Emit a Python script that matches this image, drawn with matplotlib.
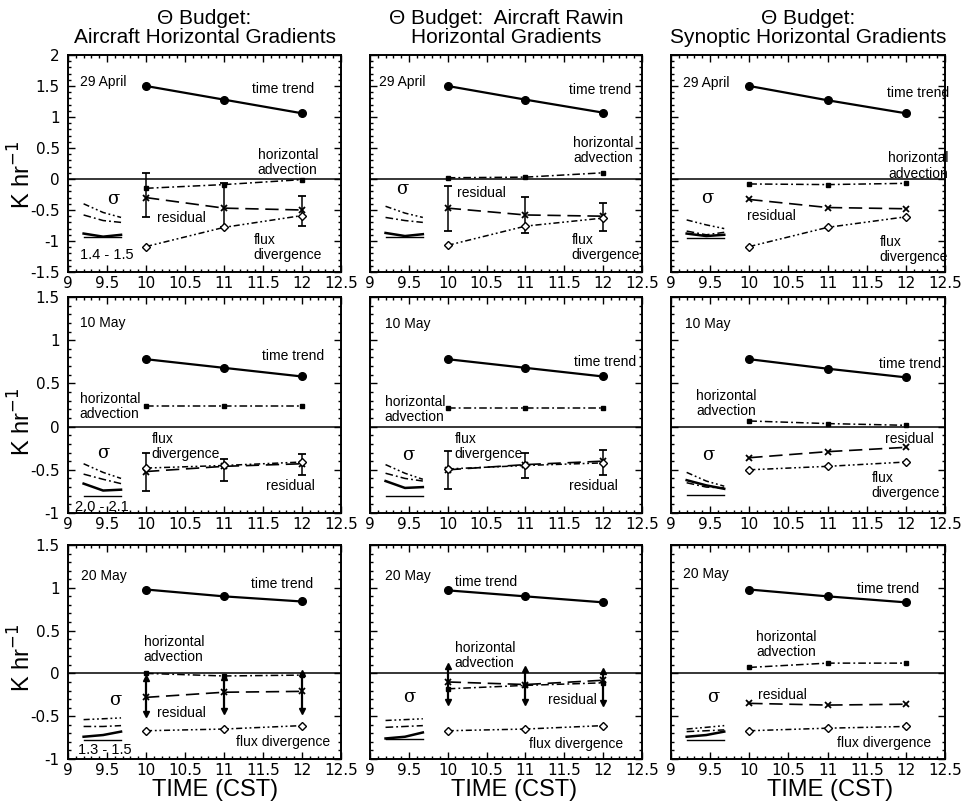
import matplotlib
matplotlib.use("Agg")
import matplotlib.pyplot as plt
from matplotlib.ticker import MultipleLocator

plt.rcParams['font.family'] = ['Liberation Sans', 'DejaVu Sans']

# ---------------------------------------------------------------- data
hours = [10, 11, 12]
dates = ['29 April', '10 May', '20 May']
column_titles = ['\u0398 Budget:\nAircraft Horizontal Gradients',
                 '\u0398 Budget:  Aircraft Rawin\nHorizontal Gradients',
                 '\u0398 Budget:\nSynoptic Horizontal Gradients']
x_ticks = [9, 9.5, 10, 10.5, 11, 11.5, 12, 12.5]
y_ticks_top = [2, 1.5, 1, 0.5, 0, -0.5, -1, -1.5]
y_ticks_lower = [1.5, 1, 0.5, 0, -0.5, -1]

# budget terms, [row][column] -> values at 10, 11, 12 CST (K/hr)
time_trend = [
    [[1.50, 1.28, 1.06], [1.50, 1.28, 1.07], [1.50, 1.27, 1.06]],
    [[0.78, 0.68, 0.58], [0.78, 0.68, 0.58], [0.78, 0.67, 0.57]],
    [[0.98, 0.90, 0.84], [0.97, 0.90, 0.83], [0.98, 0.90, 0.83]],
]
horiz_adv = [
    [[-0.15, -0.09, -0.01], [0.02, 0.03, 0.10], [-0.08, -0.09, -0.07]],
    [[0.24, 0.24, 0.24], [0.22, 0.22, 0.22], [0.065, 0.035, 0.015]],
    [[0.00, -0.03, -0.02], [-0.18, -0.14, -0.11], [0.07, 0.12, 0.12]],
]
residual = [
    [[-0.30, -0.47, -0.50], [-0.47, -0.58, -0.60], [-0.33, -0.46, -0.48]],
    [[-0.52, -0.46, -0.43], [-0.50, -0.44, -0.40], [-0.36, -0.29, -0.24]],
    [[-0.28, -0.22, -0.21], [-0.10, -0.13, -0.08], [-0.35, -0.37, -0.36]],
]
flux_div = [
    [[-1.09, -0.78, -0.59], [-1.07, -0.76, -0.63], [-1.09, -0.78, -0.61]],
    [[-0.48, -0.45, -0.41], [-0.49, -0.45, -0.42], [-0.50, -0.46, -0.41]],
    [[-0.67, -0.65, -0.61], [-0.67, -0.65, -0.61], [-0.67, -0.64, -0.62]],
]
# uncertainty of the residual (below, above); None where not estimated
residual_err_lo = [
    [[0.31, 0.31, 0.25], [0.37, 0.29, 0.245], None],
    [[0.23, 0.17, 0.13], [0.22, 0.16, 0.16], None],
    [[0.20, 0.22, 0.23], [0.23, 0.20, 0.27], None],
]
residual_err_hi = [
    [[0.39, 0.40, 0.22], [0.36, 0.29, 0.215], None],
    [[0.21, 0.09, 0.11], [0.22, 0.14, 0.13], None],
    [[0.23, 0.18, 0.21], [0.19, 0.18, 0.11], None],
]

# standard-deviation sketches drawn at the left of each panel
sigma_x = [9.2, 9.45, 9.68]
sigma_flux = [
    [[-0.40, -0.54, -0.62], [-0.44, -0.55, -0.62], [-0.66, -0.74, -0.80]],
    [[-0.43, -0.53, -0.60], [-0.44, -0.54, -0.61], [-0.53, -0.63, -0.69]],
    [[-0.54, -0.53, -0.52], [-0.55, -0.54, -0.53], [-0.65, -0.63, -0.61]],
]
sigma_adv = [
    [[-0.58, -0.67, -0.70], [-0.62, -0.67, -0.70], [-0.84, -0.90, -0.86]],
    [[-0.55, -0.61, -0.66], [-0.54, -0.60, -0.63], [-0.65, -0.70, -0.71]],
    [[-0.62, -0.62, -0.61], [-0.63, -0.62, -0.61], [-0.68, -0.67, -0.66]],
]
sigma_res = [
    [[-0.88, -0.93, -0.90], [-0.87, -0.92, -0.89], [-0.88, -0.92, -0.90]],
    [[-0.66, -0.74, -0.73], [-0.63, -0.71, -0.70], [-0.62, -0.68, -0.72]],
    [[-0.74, -0.72, -0.68], [-0.76, -0.74, -0.69], [-0.74, -0.72, -0.68]],
]
sigma_base = [
    [-0.93, -0.93, -0.95],
    [-0.80, -0.80, -0.79],
    [-0.78, -0.77, -0.78],
]
trend_sigma_text = [['1.4 - 1.5', None, None],
                    ['2.0 - 2.1', None, None],
                    ['1.3 - 1.5', None, None]]

# ---------------------------------------------------------------- label layout
# (x, y, ha) in data units for each panel
label_pos = [
    [
        dict(date=(9.15, 1.57), trend=(11.76, 1.45, 'center'), adv=(11.82, 0.27, 'center'),
             res=(10.14, -0.63, 'left'), flux=(11.82, -1.10, 'center'),
             sigma=(9.58, -0.33), rng=(9.50, -1.22)),
        dict(date=(9.12, 1.57), trend=(11.96, 1.43, 'center'), adv=(12.00, 0.46, 'center'),
             res=(10.12, -0.23, 'left'), flux=(12.03, -1.10, 'center'),
             sigma=(9.41, -0.16), rng=None),
        dict(date=(9.15, 1.55), trend=(12.15, 1.38, 'center'), adv=(12.16, 0.21, 'center'),
             res=(9.97, -0.60, 'left'), flux=(12.10, -1.13, 'center'),
             sigma=(9.46, -0.30), rng=None),
    ],
    [
        dict(date=(9.15, 1.20), trend=(11.89, 0.82, 'center'), adv=(9.15, 0.23, 'left'),
             res=(11.85, -0.69, 'center'), flux=(10.07, -0.23, 'left'),
             sigma=(9.45, -0.31), rng=(9.43, -0.93)),
        dict(date=(9.19, 1.19), trend=(12.03, 0.75, 'center'), adv=(9.19, 0.20, 'left'),
             res=(11.87, -0.69, 'center'), flux=(10.09, -0.23, 'left'),
             sigma=(9.49, -0.33), rng=None),
        dict(date=(9.18, 1.19), trend=(12.05, 0.73, 'center'), adv=(9.32, 0.27, 'left'),
             res=(12.05, -0.14, 'center'), flux=(12.00, -0.68, 'center'),
             sigma=(9.47, -0.33), rng=None),
    ],
    [
        dict(date=(9.17, 1.14), trend=(11.74, 1.05, 'center'), adv=(9.97, 0.28, 'left'),
             res=(10.14, -0.46, 'left'), flux=(11.76, -0.80, 'center'),
             sigma=(9.60, -0.31), rng=(9.47, -0.90)),
        dict(date=(9.19, 1.14), trend=(10.09, 1.07, 'left'), adv=(10.09, 0.21, 'left'),
             res=(11.61, -0.31, 'center'), flux=(11.65, -0.83, 'center'),
             sigma=(9.51, -0.28), rng=None),
        dict(date=(9.15, 1.16), trend=(11.77, 0.99, 'center'), adv=(10.09, 0.34, 'left'),
             res=(10.11, -0.25, 'left'), flux=(11.72, -0.81, 'center'),
             sigma=(9.54, -0.27), rng=None),
    ],
]

# ---------------------------------------------------------------- figure
fig = plt.figure(figsize=(9.63, 8.11), dpi=100)
W, H = 963.0, 811.0
col_px = [(68, 273), (370, 272), (671, 274)]
row_px = [(55, 272), (297, 513), (545, 759)]
ylabel_px = [175, 422, 658]

LS_ADV = (0, (5, 2, 1.2, 2))
LS_RES = (0, (8, 4))
LS_FLUX = (0, (4, 1.8, 1.2, 1.8, 1.2, 1.8))
TXT = 10

for r in range(3):
    for c in range(3):
        left, width = col_px[c]
        top, bottom = row_px[r]
        ax = fig.add_axes([left / W, 1 - bottom / H, width / W, (bottom - top) / H])
        ax.set_xlim(9, 12.5)
        if r == 0:
            ax.set_ylim(-1.5, 2)
            ax.set_yticks(y_ticks_top)
        else:
            ax.set_ylim(-1, 1.5)
            ax.set_yticks(y_ticks_lower)
        ax.set_xticks(x_ticks)
        ax.set_xticklabels([f'{v:g}' for v in x_ticks])
        ax.xaxis.set_minor_locator(MultipleLocator(0.1))
        ax.yaxis.set_minor_locator(MultipleLocator(0.1))
        ax.tick_params(which='both', direction='in', top=True, right=True,
                       labelfontfamily='DejaVu Sans', labelsize=11, width=1.0)
        ax.tick_params(which='major', length=5, pad=3)
        ax.tick_params(which='minor', length=2.5)
        ax.tick_params(axis='y', pad=6)
        if c != 0:
            ax.set_yticklabels([])
        else:
            ax.set_yticklabels([f'{v:g}' for v in ax.get_yticks()])
        for sp in ax.spines.values():
            sp.set_linewidth(1.4)

        ax.axhline(0, color='k', lw=1.1, zorder=1)

        # budget terms
        ax.plot(hours, time_trend[r][c], color='k', lw=1.6, marker='o', ms=5.5, zorder=4)
        ax.plot(hours, horiz_adv[r][c], color='k', lw=1.1, ls=LS_ADV, marker='s', ms=3.5,
                zorder=4)
        ax.plot(hours, residual[r][c], color='k', lw=1.2, ls=LS_RES, marker='x', ms=5,
                mew=1.3, zorder=4)
        ax.plot(hours, flux_div[r][c], color='k', lw=1.1, ls=LS_FLUX, marker='D', ms=4,
                mfc='white', mew=1.0, zorder=5)

        # residual uncertainty
        lo = residual_err_lo[r][c]
        hi = residual_err_hi[r][c]
        if lo is not None:
            if r == 2:
                ax.errorbar(hours, residual[r][c], yerr=[lo, hi], fmt='none', ecolor='k',
                            elinewidth=1.6, capsize=0, zorder=3)
                ax.plot(hours, [v + e for v, e in zip(residual[r][c], hi)], ls='none',
                        marker='^', ms=5, color='k', zorder=3)
                ax.plot(hours, [v - e for v, e in zip(residual[r][c], lo)], ls='none',
                        marker='v', ms=5, color='k', zorder=3)
            else:
                ax.errorbar(hours, residual[r][c], yerr=[lo, hi], fmt='none', ecolor='k',
                            elinewidth=1.1, capsize=3, capthick=1.3, zorder=3)

        # standard-deviation sketch
        ax.plot(sigma_x, sigma_flux[r][c], color='k', lw=1.1, ls=LS_FLUX)
        ax.plot(sigma_x, sigma_adv[r][c], color='k', lw=1.1, ls=LS_ADV)
        ax.plot(sigma_x, sigma_res[r][c], color='k', lw=1.8)
        ax.plot([sigma_x[0], sigma_x[-1]], [sigma_base[r][c]] * 2, color='k', lw=1.0)

        # annotations
        p = label_pos[r][c]
        ax.text(*p['date'], dates[r], ha='left', va='center', fontsize=TXT)
        x, y, ha = p['trend']
        ax.text(x, y, 'time trend', ha=ha, va='center', fontsize=TXT)
        x, y, ha = p['adv']
        ax.text(x, y, 'horizontal\nadvection', ha=ha, va='center', fontsize=TXT,
                multialignment='left', linespacing=1.1)
        x, y, ha = p['res']
        ax.text(x, y, 'residual', ha=ha, va='center', fontsize=TXT)
        x, y, ha = p['flux']
        flux_txt = 'flux divergence' if r == 2 else 'flux\ndivergence'
        ax.text(x, y, flux_txt, ha=ha, va='center', fontsize=TXT,
                multialignment='left', linespacing=1.1)
        ax.text(*p['sigma'], '\u03c3', ha='center', va='center', fontsize=13,
                family='DejaVu Serif')
        if trend_sigma_text[r][c] is not None:
            ax.text(*p['rng'], trend_sigma_text[r][c], ha='center', va='center', fontsize=10.5)

        if r == 0:
            ax.text(0.5, 1.035, column_titles[c], transform=ax.transAxes, ha='center',
                    va='bottom', fontsize=15, linespacing=1.05)
        if r == 2:
            xoff = [0.54, 0.53, 0.58][c]
            ax.text(xoff, -0.095, 'TIME (CST)', transform=ax.transAxes, ha='center',
                    va='top', fontsize=17)
        if c == 0:
            fig.text(22 / W, 1 - ylabel_px[r] / H, 'K hr$^{-1}$', rotation=90,
                     ha='center', va='center', fontsize=17)

fig.savefig('out.png', dpi=100)
